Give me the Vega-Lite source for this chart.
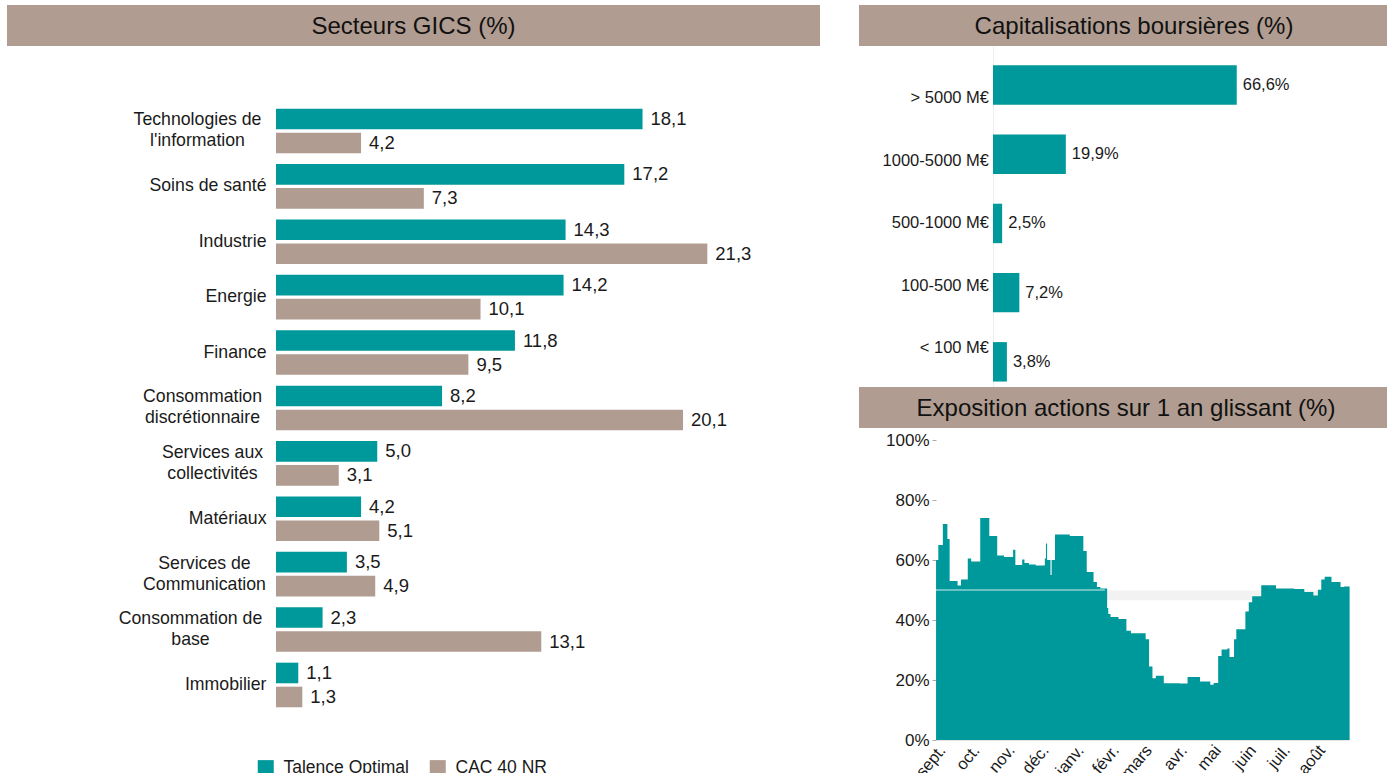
{
  "$schema": "https://vega.github.io/schema/vega-lite/v6.json",
  "background": "white",
  "padding": {"left": 7, "top": 5, "right": 0, "bottom": 0},
  "config": {
    "view": {"stroke": null},
    "font": "Liberation Sans",
    "axis": {"labelFont": "Liberation Sans", "labelColor": "#1a1a1a", "grid": false},
    "legend": {"labelFont": "Liberation Sans", "labelColor": "#1a1a1a"},
    "locale": {
      "number": {"decimal": ",", "thousands": "\u00a0", "grouping": [3], "currency": ["", "\u00a0€"], "percent": "%"}
    }
  },
  "spacing": 39,
  "hconcat": [
    {
      "spacing": 0,
      "vconcat": [
        {
          "width": 813,
          "height": 41,
          "view": {"fill": "#b09c90", "stroke": null},
          "data": {"values": [{"title": "Secteurs GICS (%)"}]},
          "mark": {"type": "text", "fontSize": 24, "font": "Liberation Sans", "color": "#111111", "baseline": "middle", "dy": 1},
          "encoding": {"text": {"field": "title"}}
        },
        {
          "width": 813,
          "height": 700,
          "data": {
            "values": [
              {"sector": "Technologies de\nl'information", "series": "Talence Optimal", "value": 18.1},
              {"sector": "Technologies de\nl'information", "series": "CAC 40 NR", "value": 4.2},
              {"sector": "Soins de santé", "series": "Talence Optimal", "value": 17.2},
              {"sector": "Soins de santé", "series": "CAC 40 NR", "value": 7.3},
              {"sector": "Industrie", "series": "Talence Optimal", "value": 14.3},
              {"sector": "Industrie", "series": "CAC 40 NR", "value": 21.3},
              {"sector": "Energie", "series": "Talence Optimal", "value": 14.2},
              {"sector": "Energie", "series": "CAC 40 NR", "value": 10.1},
              {"sector": "Finance", "series": "Talence Optimal", "value": 11.8},
              {"sector": "Finance", "series": "CAC 40 NR", "value": 9.5},
              {"sector": "Consommation\ndiscrétionnaire", "series": "Talence Optimal", "value": 8.2},
              {"sector": "Consommation\ndiscrétionnaire", "series": "CAC 40 NR", "value": 20.1},
              {"sector": "Services aux\ncollectivités", "series": "Talence Optimal", "value": 5.0},
              {"sector": "Services aux\ncollectivités", "series": "CAC 40 NR", "value": 3.1},
              {"sector": "Matériaux", "series": "Talence Optimal", "value": 4.2},
              {"sector": "Matériaux", "series": "CAC 40 NR", "value": 5.1},
              {"sector": "Services de\nCommunication", "series": "Talence Optimal", "value": 3.5},
              {"sector": "Services de\nCommunication", "series": "CAC 40 NR", "value": 4.9},
              {"sector": "Consommation de\nbase", "series": "Talence Optimal", "value": 2.3},
              {"sector": "Consommation de\nbase", "series": "CAC 40 NR", "value": 13.1},
              {"sector": "Immobilier", "series": "Talence Optimal", "value": 1.1},
              {"sector": "Immobilier", "series": "CAC 40 NR", "value": 1.3}
            ]
          },
          "encoding": {
            "y": {
              "field": "sector", "type": "nominal", "sort": null,
              "scale": {"paddingInner": 0.195, "paddingOuter": 0.915, "align": 0.618},
              "axis": {"title": null, "domain": false, "ticks": false, "labelFontSize": 17.7, "offset": -269,
                       "labelExpr": "split(datum.label, '\\n')", "labelLineHeight": 21, "labelLimit": 300,
                       "labelAlign": {"condition": {"test": "indexof(datum.value, '\\n') >= 0", "value": "center"}, "value": "right"},
                       "labelOffset": {"condition": {"test": "indexof(datum.value, '\\n') >= 0", "value": -10.5}, "value": 0},
                       "labelPadding": {"condition": [
                         {"test": "indexof(datum.value, 'Technologies') == 0", "value": 79},
                         {"test": "indexof(datum.value, 'Consommation\\nd') == 0", "value": 74},
                         {"test": "indexof(datum.value, 'Services aux') == 0", "value": 64},
                         {"test": "indexof(datum.value, 'Services de') == 0", "value": 72},
                         {"test": "indexof(datum.value, 'Consommation de') == 0", "value": 86}
                       ], "value": 10}}
            },
            "yOffset": {"field": "series", "type": "nominal", "sort": ["Talence Optimal", "CAC 40 NR"], "scale": {"paddingInner": 0.142}},
            "x": {"field": "value", "type": "quantitative", "scale": {"domain": [-13.284, 26.864], "nice": false, "zero": false}, "axis": null}
          },
          "layer": [
            {
              "mark": {"type": "bar"},
              "encoding": {
                "x2": {"datum": 0},
                "color": {
                  "field": "series", "type": "nominal",
                  "scale": {"domain": ["Talence Optimal", "CAC 40 NR"], "range": ["#00999b", "#b09c90"]},
                  "legend": {"orient": "none", "legendX": 250, "legendY": 754, "direction": "horizontal", "title": null,
                             "symbolType": "square", "symbolSize": 256, "symbolStrokeWidth": 0, "labelFontSize": 17.5,
                             "columnPadding": 20, "labelOffset": 9, "symbolOpacity": 1}
                }
              }
            },
            {
              "mark": {"type": "text", "align": "left", "dx": 8, "fontSize": 18.5, "color": "#1a1a1a"},
              "encoding": {"text": {"field": "value", "type": "quantitative", "format": ".1f"}}
            }
          ]
        }
      ]
    },
    {
      "spacing": 0,
      "vconcat": [
        {
          "width": 528,
          "height": 41,
          "view": {"fill": "#b09c90", "stroke": null},
          "data": {"values": [{"title": "Capitalisations boursières (%)"}]},
          "mark": {"type": "text", "fontSize": 24, "font": "Liberation Sans", "color": "#111111", "baseline": "middle", "dy": 1, "dx": 11},
          "encoding": {"text": {"field": "title"}}
        },
        {
          "width": 528,
          "height": 341,
          "data": {
            "values": [
              {"cap": "> 5000 M€", "pct": 0.666},
              {"cap": "1000-5000 M€", "pct": 0.199},
              {"cap": "500-1000 M€", "pct": 0.025},
              {"cap": "100-500 M€", "pct": 0.072},
              {"cap": "< 100 M€", "pct": 0.038}
            ]
          },
          "layer": [
            {
              "encoding": {
                "y": {"field": "cap", "type": "nominal", "sort": null,
                      "scale": {"paddingInner": 0.43, "paddingOuter": 0.179, "align": 0.78},
                      "axis": {"title": null, "labels": false, "ticks": false, "domain": true, "domainColor": "#eeeeee", "offset": -134}},
                "x": {"field": "pct", "type": "quantitative", "scale": {"domain": [-0.3661, 1.0765], "nice": false, "zero": false}, "axis": null}
              },
              "layer": [
                {"mark": {"type": "bar", "color": "#00999b"}, "encoding": {"x2": {"datum": 0}}},
                {"mark": {"type": "text", "align": "left", "dx": 6, "fontSize": 16.5, "color": "#1a1a1a"},
                 "encoding": {"text": {"field": "pct", "type": "quantitative", "format": ".1%"}}}
              ]
            },
            {
              "mark": {"type": "text", "align": "right", "dx": -4, "fontSize": 16.5, "color": "#1a1a1a"},
              "encoding": {
                "y": {"field": "cap", "type": "nominal", "sort": null, "scale": {"type": "point", "padding": 0.73, "align": 0.574}, "axis": null},
                "x": {"datum": 0, "type": "quantitative"},
                "text": {"field": "cap"}
              }
            }
          ],
          "resolve": {"scale": {"y": "independent"}, "axis": {"y": "independent"}}
        },
        {
          "width": 528,
          "height": 41,
          "view": {"fill": "#b09c90", "stroke": null},
          "data": {"values": [{"title": "Exposition actions sur 1 an glissant (%)"}]},
          "mark": {"type": "text", "fontSize": 24, "font": "Liberation Sans", "color": "#111111", "baseline": "middle", "dy": 1, "dx": 3},
          "encoding": {"text": {"field": "title"}}
        },
        {
          "width": 528,
          "height": 312,
          "layer": [
            {
              "data": {"values": [{"start": "2020-01-24", "end": "2020-08-31", "lo": 46.6, "hi": 49.8}]},
              "mark": {"type": "rect", "color": "#f2f2f2"},
              "encoding": {
                "x": {"field": "start", "type": "temporal"},
                "x2": {"field": "end"},
                "y": {"field": "lo", "type": "quantitative"},
                "y2": {"field": "hi"}
              }
            },
            {
              "data": {"values": [{"start": "2019-09-01", "end": "2020-08-31", "level": 0}]},
              "mark": {"type": "rule", "color": "#cccccc", "strokeWidth": 1},
              "encoding": {
                "x": {"field": "start", "type": "temporal"},
                "x2": {"field": "end"},
                "y": {"field": "level", "type": "quantitative"}
              }
            },
            {
              "data": {
                "values": [
                  {"date": "2019-09-01", "v": 60},
                  {"date": "2019-09-03", "v": 65},
                  {"date": "2019-09-07", "v": 72},
                  {"date": "2019-09-11", "v": 67},
                  {"date": "2019-09-13", "v": 53},
                  {"date": "2019-09-20", "v": 51.5},
                  {"date": "2019-09-23", "v": 53.5},
                  {"date": "2019-09-29", "v": 60.5},
                  {"date": "2019-10-02", "v": 59.5},
                  {"date": "2019-10-10", "v": 74},
                  {"date": "2019-10-18", "v": 68},
                  {"date": "2019-10-25", "v": 61.5},
                  {"date": "2019-10-31", "v": 61},
                  {"date": "2019-11-08", "v": 63.4},
                  {"date": "2019-11-10", "v": 58.3},
                  {"date": "2019-11-16", "v": 60.2},
                  {"date": "2019-11-18", "v": 59},
                  {"date": "2019-11-22", "v": 58.5},
                  {"date": "2019-11-28", "v": 58.2},
                  {"date": "2019-12-06", "v": 60.5},
                  {"date": "2019-12-07", "v": 65.5},
                  {"date": "2019-12-08", "v": 60},
                  {"date": "2019-12-11", "v": 55},
                  {"date": "2019-12-12", "v": 60},
                  {"date": "2019-12-15", "v": 68.5},
                  {"date": "2019-12-28", "v": 68},
                  {"date": "2020-01-09", "v": 63},
                  {"date": "2020-01-12", "v": 56},
                  {"date": "2020-01-18", "v": 52.7},
                  {"date": "2020-01-21", "v": 51},
                  {"date": "2020-01-24", "v": 50.5},
                  {"date": "2020-01-30", "v": 44},
                  {"date": "2020-01-31", "v": 42},
                  {"date": "2020-02-02", "v": 41},
                  {"date": "2020-02-09", "v": 40.3},
                  {"date": "2020-02-16", "v": 36.4},
                  {"date": "2020-02-20", "v": 35.6},
                  {"date": "2020-03-04", "v": 33.6},
                  {"date": "2020-03-07", "v": 24.5},
                  {"date": "2020-03-10", "v": 20.6},
                  {"date": "2020-03-13", "v": 21.4},
                  {"date": "2020-03-20", "v": 18.9},
                  {"date": "2020-04-03", "v": 18.8},
                  {"date": "2020-04-10", "v": 21},
                  {"date": "2020-04-21", "v": 19.5},
                  {"date": "2020-04-30", "v": 18.4},
                  {"date": "2020-05-03", "v": 19},
                  {"date": "2020-05-07", "v": 28},
                  {"date": "2020-05-10", "v": 30.2},
                  {"date": "2020-05-15", "v": 30.5},
                  {"date": "2020-05-17", "v": 27.7},
                  {"date": "2020-05-21", "v": 33.6},
                  {"date": "2020-05-23", "v": 36.9},
                  {"date": "2020-05-31", "v": 42.8},
                  {"date": "2020-06-03", "v": 45.9},
                  {"date": "2020-06-06", "v": 47.9},
                  {"date": "2020-06-14", "v": 51.6},
                  {"date": "2020-06-27", "v": 50.5},
                  {"date": "2020-07-13", "v": 50.3},
                  {"date": "2020-07-22", "v": 49.3},
                  {"date": "2020-07-30", "v": 48.2},
                  {"date": "2020-08-03", "v": 50.1},
                  {"date": "2020-08-06", "v": 53.5},
                  {"date": "2020-08-09", "v": 54.4},
                  {"date": "2020-08-15", "v": 52.7},
                  {"date": "2020-08-23", "v": 51},
                  {"date": "2020-08-26", "v": 51.2},
                  {"date": "2020-08-31", "v": 51.2}
                ]
              },
              "mark": {"type": "area", "interpolate": "step-after", "color": "#00999b", "opacity": 1},
              "encoding": {
                "x": {"field": "date", "type": "temporal",
                      "scale": {"type": "utc", "domain": [{"year": 2019, "month": 6, "date": 25, "utc": true}, {"year": 2020, "month": 10, "date": 3, "utc": true}]},
                      "axis": {"title": null,
                               "values": [
                                 {"year": 2019, "month": 9, "date": 1, "utc": true},
                                 {"year": 2019, "month": 10, "date": 1, "utc": true},
                                 {"year": 2019, "month": 11, "date": 1, "utc": true},
                                 {"year": 2019, "month": 12, "date": 1, "utc": true},
                                 {"year": 2020, "month": 1, "date": 1, "utc": true},
                                 {"year": 2020, "month": 2, "date": 1, "utc": true},
                                 {"year": 2020, "month": 3, "date": 1, "utc": true},
                                 {"year": 2020, "month": 4, "date": 1, "utc": true},
                                 {"year": 2020, "month": 5, "date": 1, "utc": true},
                                 {"year": 2020, "month": 6, "date": 1, "utc": true},
                                 {"year": 2020, "month": 7, "date": 1, "utc": true},
                                 {"year": 2020, "month": 8, "date": 1, "utc": true}
                               ],
                               "labelAngle": -50, "labelAlign": "right", "labelBaseline": "top",
                               "labelExpr": "['janv.','févr.','mars','avr.','mai','juin','juil.','août','sept.','oct.','nov.','déc.'][utcmonth(datum.value)]",
                               "labelFontSize": 16.5, "ticks": false, "domain": false, "labelPadding": 2, "labelOverlap": false, "labelBound": false, "labelFlush": false}},
                "y": {"field": "v", "type": "quantitative", "scale": {"domain": [0, 104], "nice": false},
                      "axis": {"title": null, "values": [0, 20, 40, 60, 80, 100], "labelExpr": "datum.value + '%'", "labelFontSize": 17, "offset": -77,
                               "domain": false, "ticks": true, "tickSize": 4, "tickColor": "#aaaaaa", "labelPadding": 3}}
              }
            },
            {
              "data": {"values": [{"start": "2019-09-01", "end": "2020-01-28", "level": 50}]},
              "mark": {"type": "rule", "color": "#ffffff", "opacity": 0.55, "strokeWidth": 1.5},
              "encoding": {
                "x": {"field": "start", "type": "temporal"},
                "x2": {"field": "end"},
                "y": {"field": "level", "type": "quantitative"}
              }
            }
          ]
        }
      ]
    }
  ]
}
